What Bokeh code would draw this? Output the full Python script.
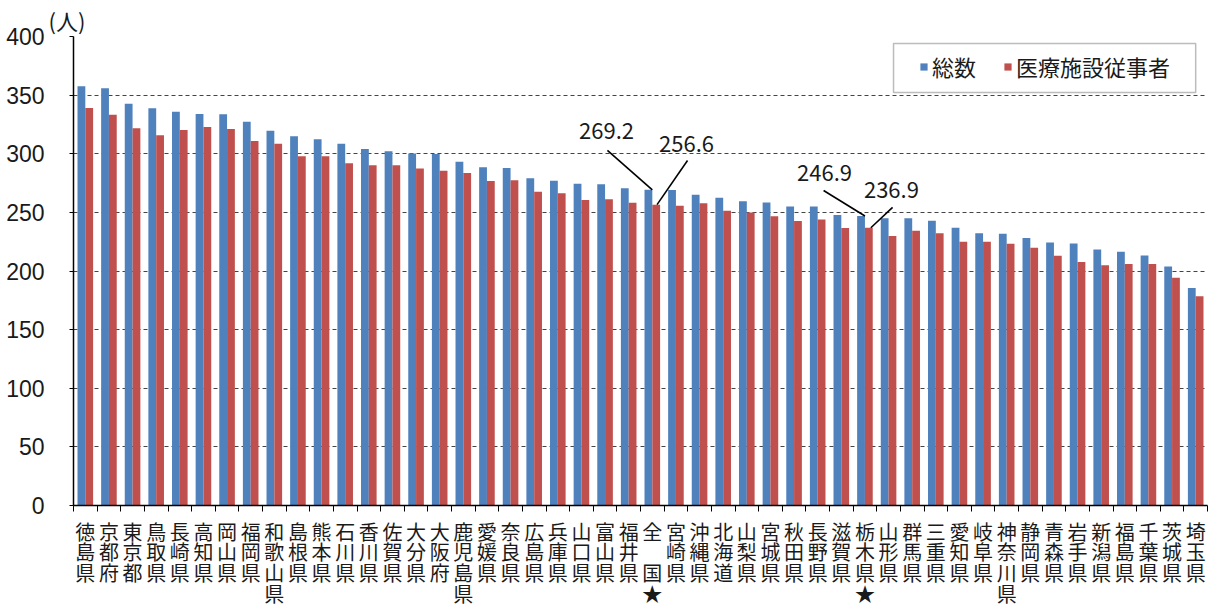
from bokeh.plotting import figure
from bokeh.models import (ColumnDataSource, FixedTicker, Range1d, Legend, LegendItem,
                          BoxAnnotation)
from bokeh.transform import dodge
from bokeh.core.properties import value
from bokeh.embed import file_html
from bokeh.resources import INLINE

# ---- data ----
prefectures = ["徳島県", "京都府", "東京都", "鳥取県", "長崎県", "高知県", "岡山県", "福岡県",
               "和歌山県", "島根県", "熊本県", "石川県", "香川県", "佐賀県", "大分県", "大阪府",
               "鹿児島県", "愛媛県", "奈良県", "広島県", "兵庫県", "山口県", "富山県", "福井県",
               "全国", "宮崎県", "沖縄県", "北海道", "山梨県", "宮城県", "秋田県", "長野県",
               "滋賀県", "栃木県", "山形県", "群馬県", "三重県", "愛知県", "岐阜県", "神奈川県",
               "静岡県", "青森県", "岩手県", "新潟県", "福島県", "千葉県", "茨城県", "埼玉県"]
total = [357.5, 355.8, 342.7, 338.8, 335.9, 333.9, 333.6, 327.3, 319.6, 314.9, 312.3, 308.5,
         304.0, 302.1, 300.3, 299.7, 293.2, 288.4, 287.8, 279.0, 277.0, 274.4, 273.9, 270.5,
         269.2, 269.0, 265.0, 262.5, 259.4, 258.5, 255.1, 255.1, 247.7, 246.9, 244.9, 244.9,
         242.8, 236.8, 232.1, 231.7, 228.1, 224.4, 223.5, 218.4, 216.4, 213.3, 203.9, 185.4]
medical = [339.0, 333.3, 321.7, 315.7, 320.2, 322.8, 321.1, 310.8, 308.5, 297.8, 297.8, 291.8,
           290.1, 290.1, 287.5, 285.5, 283.5, 276.8, 277.3, 267.6, 266.3, 260.5, 261.3, 258.2,
           256.6, 255.6, 257.7, 251.4, 250.0, 246.6, 242.6, 244.0, 236.6, 236.9, 229.8, 234.3,
           232.1, 224.9, 224.9, 223.2, 219.9, 212.9, 207.6, 204.8, 205.9, 205.9, 194.2, 178.4]
series_names = ["総数", "医療施設従事者"]
y_ticks = [0, 50, 100, 150, 200, 250, 300, 350, 400]
starred = ["全国", "栃木県"]
unit_label = "(人)"

BLUE = "#4F81BD"
RED = "#C0504D"
JP = "Noto Sans CJK JP"
NUM = "'Liberation Sans Narrow', 'Liberation Sans', sans-serif"

n = len(prefectures)
xs = list(range(n))


def stacked(name):
    chars = list(name)
    if name == "全国":
        chars = ["全", " ", "国"]
    if name in starred:
        chars = chars + ["★"]
    return "\n".join(chars)


src = ColumnDataSource(dict(x=xs, total=total, medical=medical, name=prefectures))

p = figure(frame_width=1134, frame_height=469,
           x_range=Range1d(-0.5, n - 0.5), y_range=Range1d(0, 400),
           output_backend="svg", toolbar_location=None,
           min_border_left=73, min_border_top=36, min_border_right=2, min_border_bottom=0,
           background_fill_color="white", border_fill_color="white")
p.outline_line_color = None

p.title.text = unit_label
p.title.align = "left"
p.title.offset = -25
p.title.standoff = 1
p.title.text_font = JP
p.title.text_font_size = "22px"
p.title.text_font_style = "normal"
p.title.text_color = "#1a1a1a"

r1 = p.vbar(x=dodge("x", -0.165), top="total", width=0.33, source=src,
            fill_color=BLUE, line_color=None)
r2 = p.vbar(x=dodge("x", 0.165), top="medical", width=0.33, source=src,
            fill_color=RED, line_color=None)

# x axis
xa = p.xaxis[0]
xa.ticker = FixedTicker(ticks=xs, minor_ticks=[i - 0.5 for i in range(n + 1)])
xa.major_label_overrides = {i: stacked(nm) for i, nm in enumerate(prefectures)}
xa.major_tick_out = 0
xa.major_tick_in = 0
xa.minor_tick_out = 6
xa.minor_tick_in = 0
xa.minor_tick_line_color = "black"
xa.axis_line_color = "black"
xa.axis_line_width = 1.5
xa.major_label_standoff = 5
xa.major_label_text_font = JP
xa.major_label_text_font_size = "20px"
xa.major_label_text_line_height = 0.72
xa.major_label_text_color = "#1a1a1a"

# y axis
ya = p.yaxis[0]
ya.ticker = FixedTicker(ticks=y_ticks)
ya.axis_line_color = "black"
ya.axis_line_width = 1.5
ya.major_tick_out = 4
ya.major_tick_in = 0
ya.minor_tick_line_color = None
ya.major_label_standoff = 25
ya.major_label_text_font = NUM
ya.major_label_text_font_size = "23px"
ya.major_label_text_color = "#1a1a1a"

p.xgrid.visible = False
p.ygrid.ticker = FixedTicker(ticks=y_ticks)
p.ygrid.grid_line_color = "#444444"
p.ygrid.grid_line_dash = "4 3"
p.ygrid.grid_line_width = 1.2

# annotations (values taken from the data arrays)
i_nat = prefectures.index("全国")
i_toc = prefectures.index("栃木県")
ann = ColumnDataSource(dict(
    tx=[22.06, 25.45, 31.29, 34.12],
    ty=[319.0, 308.7, 283.2, 268.7],
    text=[f"{total[i_nat]:.1f}", f"{medical[i_nat]:.1f}",
          f"{total[i_toc]:.1f}", f"{medical[i_toc]:.1f}"],
    x0=[22.1, 25.49, 31.25, 34.17],
    y0=[302.8, 294.2, 268.7, 254.2],
    x1=[i_nat, i_nat + 0.2, i_toc, i_toc + 0.25],
    y1=[total[i_nat], medical[i_nat], total[i_toc], medical[i_toc]],
))
p.segment(x0="x0", y0="y0", x1="x1", y1="y1", source=ann, line_color="black", line_width=1.6)
p.text(x="tx", y="ty", text="text", source=ann, text_align="center", text_baseline="middle",
       text_font=value(JP), text_font_size="22px", text_color="#1a1a1a")

# legend box + legend
box = BoxAnnotation(left=34.21, right=47.0, bottom=352.2, top=394.0,
                    fill_color="white", fill_alpha=1.0, line_color="#222222", line_width=1.5)
p.add_layout(box)
legend = Legend(items=[LegendItem(label=series_names[0], renderers=[r1]),
                       LegendItem(label=series_names[1], renderers=[r2])],
                orientation="horizontal", location=(846, 423),
                border_line_color=None, background_fill_alpha=0.0,
                padding=8, spacing=27, glyph_width=9, glyph_height=9, label_standoff=4,
                label_text_font=JP, label_text_font_size="22px", label_text_color="#1a1a1a")
p.add_layout(legend)

open("out.html", "w").write(file_html(p, INLINE))
